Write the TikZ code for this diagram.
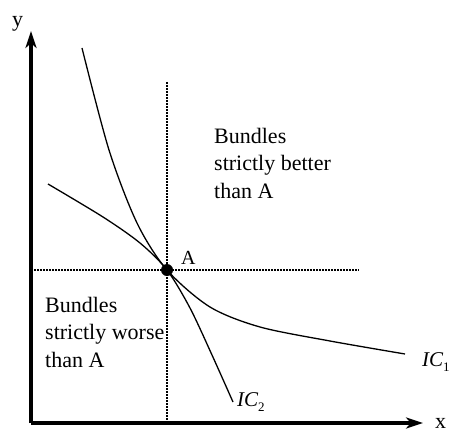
\documentclass[tikz,border=0pt]{standalone}
\usepackage{fontspec}
\setmainfont{Liberation Serif}
\usetikzlibrary{arrows.meta}
\tikzset{
  axis/.style={line width=3.2pt,-{Stealth[length=17pt,width=11pt,inset=5pt]}},
  guide/.style={line width=2pt,dash pattern=on 1.6pt off 1.4pt},
  curve/.style={line width=1.3pt},
  lbl/.style={inner sep=0pt,anchor=base west,font=\fontsize{22}{27.5}\selectfont},
  block/.style={lbl,align=left}
}
\newcommand{\icsub}[1]{{\itshape IC}\raisebox{-0.28em}{\fontsize{13}{13}\selectfont #1}}
\begin{document}
\begin{tikzpicture}[x=1pt,y=-1pt]
\useasboundingbox (0,0) rectangle (449,433);
\coordinate (O) at (31,423);
\coordinate (ytip) at (31,31);
\coordinate (xtip) at (423,423);
\coordinate (vtop) at (167,82);
\coordinate (vbot) at (167,423);
\coordinate (hleft) at (31,270);
\coordinate (hright) at (359,270);
\node[circle,fill=black,inner sep=0pt,minimum size=12pt] (A) at (167,270) {};
% guides
\draw[guide] (vtop) -- (vbot);
\draw[guide] (hleft) -- (hright);
% axes
\draw[axis] (O) -- (ytip);
\draw[axis] (O) -- (xtip);
% IC1
\draw[curve] plot[smooth] coordinates {(82,48) (109,150) (137,223) (167,270) (210,307) (260,327) (330,341) (405,354)};
% IC2
\draw[curve] plot[smooth] coordinates {(48,184) (103,217) (140,243) (167,270) (190,308) (212,355) (233,402)};
% labels
\node[lbl] (ylab) at (12,27) {y};
\node[lbl] (xlab) at (435,428) {x};
\node[lbl,font=\fontsize{20}{24}\selectfont] (Alab) at (181,264) {A};
\node[lbl,font=\fontsize{21}{25}\selectfont] (ic1) at (422,366) {\icsub{1}};
\node[lbl,font=\fontsize{21}{25}\selectfont] (ic2) at (237,406) {\icsub{2}};
\node[block] (better) at (214,198) {Bundles\\strictly better\\than A};
\node[block] (worse) at (45,367) {Bundles\\strictly worse\\than A};
\end{tikzpicture}
\end{document}
